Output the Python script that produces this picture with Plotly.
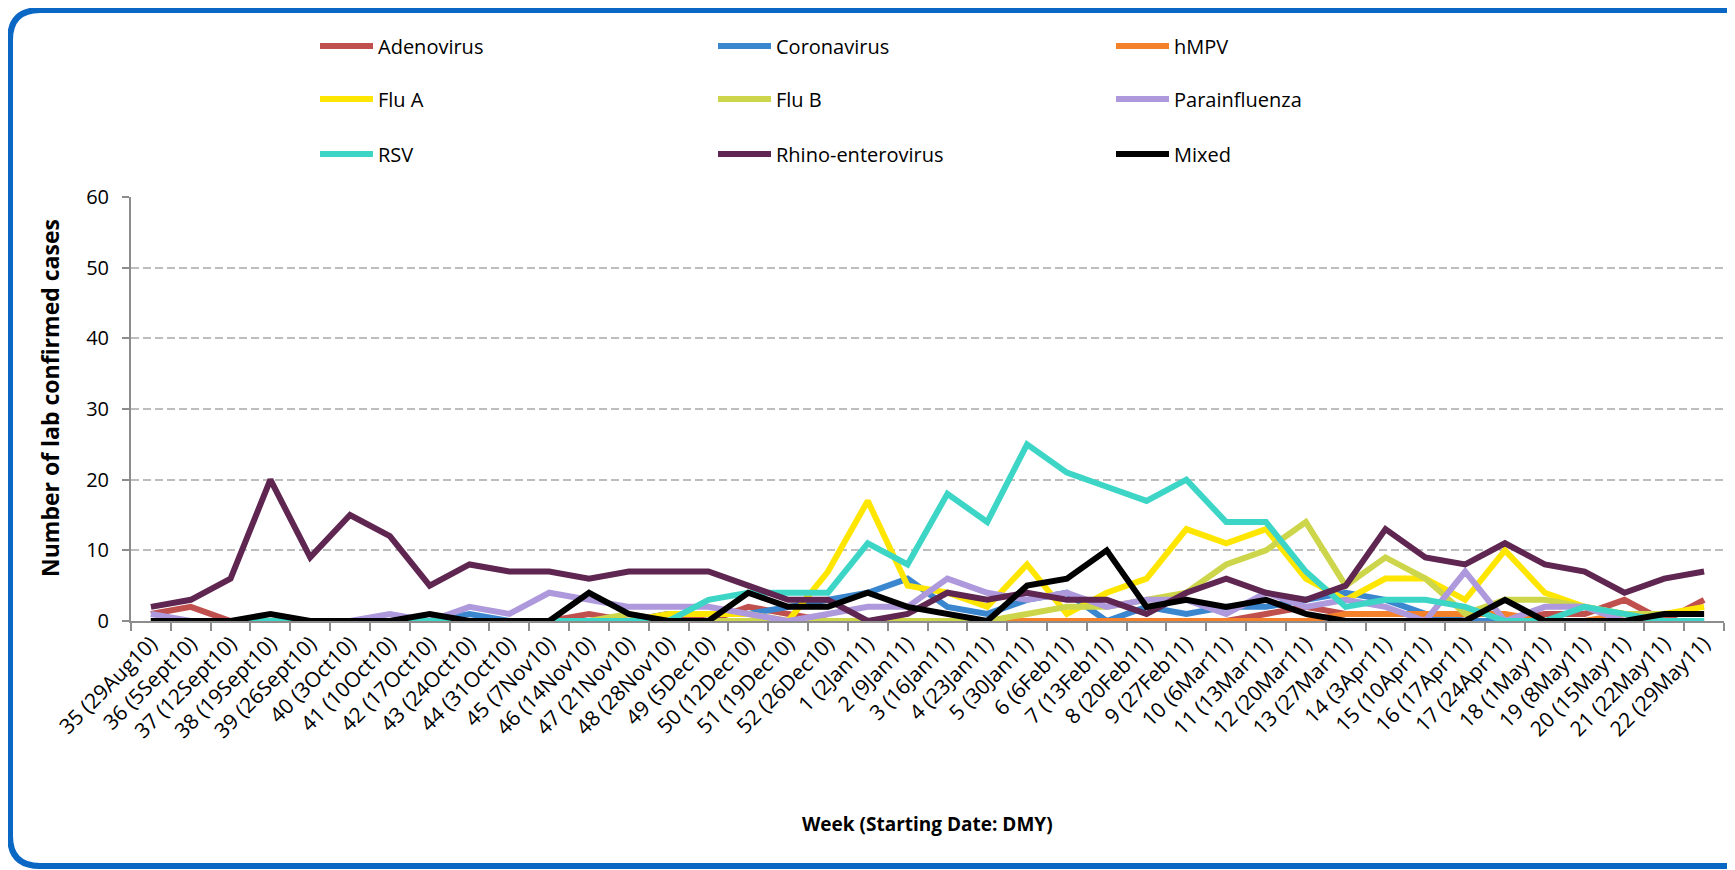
import plotly.graph_objects as go

weeks = ["35 (29Aug10)", "36 (5Sept10)", "37 (12Sept10)", "38 (19Sept10)", "39 (26Sept10)",
         "40 (3Oct10)", "41 (10Oct10)", "42 (17Oct10)", "43 (24Oct10)", "44 (31Oct10)",
         "45 (7Nov10)", "46 (14Nov10)", "47 (21Nov10)", "48 (28Nov10)", "49 (5Dec10)",
         "50 (12Dec10)", "51 (19Dec10)", "52 (26Dec10)", "1 (2Jan11)", "2 (9Jan11)",
         "3 (16Jan11)", "4 (23Jan11)", "5 (30Jan11)", "6 (6Feb11)", "7 (13Feb11)",
         "8 (20Feb11)", "9 (27Feb11)", "10 (6Mar11)", "11 (13Mar11)", "12 (20Mar11)",
         "13 (27Mar11)", "14 (3Apr11)", "15 (10Apr11)", "16 (17Apr11)", "17 (24Apr11)",
         "18 (1May11)", "19 (8May11)", "20 (15May11)", "21 (22May11)", "22 (29May11)"]

adenovirus = [1, 2, 0, 0, 0, 0, 0, 0, 0, 0, 0, 1, 0, 1, 0, 2, 1, 0, 0, 0,
              0, 0, 0, 0, 0, 0, 0, 0, 1, 2, 1, 1, 1, 0, 0, 1, 1, 3, 0, 3]
coronavirus = [0, 0, 0, 0, 0, 0, 0, 0, 1, 0, 0, 0, 0, 1, 1, 1, 2, 3, 4, 6,
               2, 1, 3, 4, 0, 2, 1, 2, 2, 3, 4, 3, 1, 0, 0, 0, 0, 0, 0, 0]
hmpv = [0, 0, 0, 0, 0, 0, 0, 0, 0, 0, 0, 0, 0, 0, 0, 0, 0, 0, 0, 0,
        0, 0, 0, 0, 0, 0, 0, 0, 0, 0, 1, 1, 1, 1, 1, 0, 0, 1, 1, 1]
flu_a = [0, 0, 0, 0, 0, 0, 0, 0, 0, 0, 0, 0, 0, 1, 1, 1, 0, 7, 17, 5,
         4, 2, 8, 1, 4, 6, 13, 11, 13, 6, 3, 6, 6, 3, 10, 4, 2, 1, 1, 2]
flu_b = [0, 0, 0, 0, 0, 0, 0, 0, 0, 0, 0, 0, 1, 0, 0, 0, 0, 0, 0, 0,
         0, 0, 1, 2, 2, 3, 4, 8, 10, 14, 5, 9, 6, 1, 3, 3, 2, 1, 1, 1]
parainfluenza = [1, 0, 0, 0, 0, 0, 1, 0, 2, 1, 4, 3, 2, 2, 2, 1, 0, 1, 2, 2,
                 6, 4, 3, 4, 2, 3, 3, 1, 4, 2, 3, 2, 0, 7, 0, 2, 2, 0, 0, 0]
rsv = [0, 0, 0, 0, 0, 0, 0, 0, 0, 0, 0, 0, 0, 0, 3, 4, 4, 4, 11, 8,
       18, 14, 25, 21, 19, 17, 20, 14, 14, 7, 2, 3, 3, 2, 0, 0, 2, 1, 0, 0]
rhino_entero = [2, 3, 6, 20, 9, 15, 12, 5, 8, 7, 7, 6, 7, 7, 7, 5, 3, 3, 0, 1,
                4, 3, 4, 3, 3, 1, 4, 6, 4, 3, 5, 13, 9, 8, 11, 8, 7, 4, 6, 7]
mixed = [0, 0, 0, 1, 0, 0, 0, 1, 0, 0, 0, 4, 1, 0, 0, 4, 2, 2, 4, 2,
         1, 0, 5, 6, 10, 2, 3, 2, 3, 1, 0, 0, 0, 0, 3, 0, 0, 0, 1, 1]

series_names = ["Adenovirus", "Coronavirus", "hMPV", "Flu A", "Flu B",
                "Parainfluenza", "RSV", "Rhino-enterovirus", "Mixed"]
series_values = [adenovirus, coronavirus, hmpv, flu_a, flu_b,
                 parainfluenza, rsv, rhino_entero, mixed]
colors = ["#C0504D", "#3A87CF", "#F5822A", "#FFE600", "#CDD64A",
          "#AE99DC", "#3DD6C6", "#5E2650", "#000000"]
legend_ids = ["legend", "legend", "legend", "legend2", "legend2", "legend2",
              "legend3", "legend3", "legend3"]

# figure is placed 8px in from the page corner by the browser
W, H = 1727, 862
L, R, T, B = 123, 1716, 189, 613  # plot area in figure pixels


def px(x):
    return (x - L) / (R - L)


def py(y):
    return (B - y) / (B - T)


FONT = "Open Sans"

fig = go.Figure()
for name, vals, col, lg in zip(series_names, series_values, colors, legend_ids):
    fig.add_trace(go.Scatter(x=weeks, y=vals, name=name, mode="lines",
                             line=dict(color=col, width=6),
                             legend=lg, cliponaxis=False))

leg_common = dict(orientation="h", entrywidth=330, entrywidthmode="pixels",
                  font=dict(family=FONT, size=20, color="#000000"),
                  bgcolor="rgba(0,0,0,0)", xanchor="left", yanchor="middle",
                  itemwidth=53, traceorder="normal")

fig.update_layout(
    width=W, height=H,
    margin=dict(l=L, r=W - R, t=T, b=H - B, pad=0, autoexpand=False),
    paper_bgcolor="#FFFFFF", plot_bgcolor="#FFFFFF",
    font=dict(family=FONT, color="#000000"),
    legend=dict(x=px(307), y=py(38), **leg_common),
    legend2=dict(x=px(307), y=py(91), **leg_common),
    legend3=dict(x=px(307), y=py(146), **leg_common),
    xaxis=dict(
        type="category", range=[-0.5, len(weeks) - 0.5],
        showline=True, linecolor="#8C8C8C", linewidth=2,
        ticks="outside", tickson="boundaries", ticklen=8, tickcolor="#8C8C8C", tickwidth=1.5,
        tickangle=-45, tickfont=dict(family=FONT, size=21, color="#000000"),
        showgrid=False, automargin=False,
    ),
    yaxis=dict(
        range=[0, 60], dtick=10, showline=True, linecolor="#8C8C8C", linewidth=2,
        ticks="outside", ticklen=7, tickcolor="#8C8C8C", tickwidth=1.5,
        ticklabelstandoff=9,
        tickfont=dict(family=FONT, size=20, color="#000000"),
        showgrid=True, gridcolor="#BDBDBD", gridwidth=2, griddash="8px,4px",
        zeroline=False, automargin=False,
    ),
    annotations=[
        dict(text="<b>Week (Starting Date: DMY)</b>", xref="paper", yref="paper",
             x=px(919), y=py(816), xanchor="center", yanchor="middle", showarrow=False,
             font=dict(family=FONT, size=19, color="#000000")),
        dict(text="<b>Number of lab confirmed cases</b>", xref="paper", yref="paper",
             x=px(42), y=py(390), xanchor="center", yanchor="middle", showarrow=False,
             textangle=-90, font=dict(family=FONT, size=23, color="#000000")),
    ],
)

# rounded blue frame around the whole chart
x0, y0, x1, y1, r = 2, 2, 1760, 858, 30
path = (f"M {px(x0 + r)},{py(y0)} L {px(x1 - r)},{py(y0)} "
        f"Q {px(x1)},{py(y0)} {px(x1)},{py(y0 + r)} L {px(x1)},{py(y1 - r)} "
        f"Q {px(x1)},{py(y1)} {px(x1 - r)},{py(y1)} L {px(x0 + r)},{py(y1)} "
        f"Q {px(x0)},{py(y1)} {px(x0)},{py(y1 - r)} L {px(x0)},{py(y0 + r)} "
        f"Q {px(x0)},{py(y0)} {px(x0 + r)},{py(y0)} Z")
fig.add_shape(type="path", xref="paper", yref="paper", path=path,
              line=dict(color="#0A67C4", width=6), layer="below")

fig.write_html("out.html")
